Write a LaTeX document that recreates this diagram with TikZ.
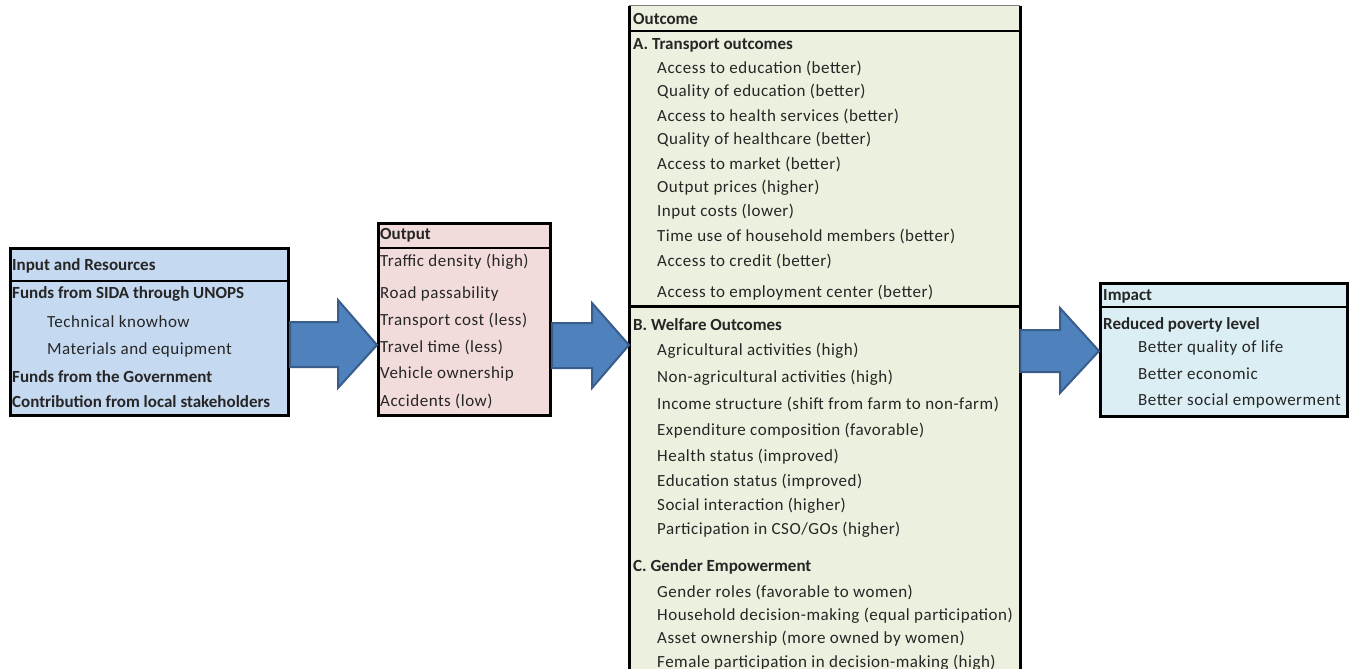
\documentclass[tikz,border=0pt]{standalone}
\usepackage{fontspec}
\setmainfont{Carlito}
\newfontfamily\regfont{Carlito}[LetterSpace=3]
\usetikzlibrary{calc}
\definecolor{inFill}{HTML}{C5D9F1}
\definecolor{outFill}{HTML}{F2DCDB}
\definecolor{ocFill}{HTML}{EBF1DE}
\definecolor{imFill}{HTML}{DAEEF3}
\definecolor{arFill}{HTML}{4F81BD}
\definecolor{arLine}{HTML}{385D8A}
\definecolor{txt}{HTML}{262626}
\definecolor{topgray}{HTML}{808080}
\begin{document}
\begin{tikzpicture}[x=1pt,y=-1pt,
  box/.style={draw=black, line width=3pt, inner sep=0pt, anchor=north west},
  hdr/.style={draw=black, line width=2.2pt},
  barrow/.style={fill=arFill, draw=arLine, line width=2pt, line join=miter},
  tx/.style={anchor=west, inner sep=0pt, text=txt, font=\regfont\fontsize{17}{20}\selectfont},
  hd/.style={anchor=west, inner sep=0pt, text=txt, font=\fontsize{17}{20}\selectfont\bfseries}
]
\useasboundingbox (0,0) rectangle (1349,669);
\fill[white] (0,0) rectangle (1349,669);

% ---------- Input box
\node[box, fill=inFill, minimum width=278pt, minimum height=167pt] (inbox) at (9,247) {};
\draw[hdr] (inbox.west |- 0,281) -- (inbox.east |- 0,281);
\node[hd] (in0) at (12,266) {Input and Resources};
\node[hd] (in1) at (12,294) {Funds from SIDA through UNOPS};
\node[tx] (in2) at (47,322) {Technical knowhow};
\node[tx] (in3) at (47,350) {Materials and equipment};
\node[hd] (in4) at (12,377) {Funds from the Government};
\node[hd] (in5) at (12,402) {Contribution from local stakeholders};

% ---------- Output box
\node[box, fill=outFill, minimum width=172pt, minimum height=192pt] (outbox) at (377,222) {};
\draw[hdr] (outbox.west |- 0,248) -- (outbox.east |- 0,248);
\node[hd] (o0) at (380,235) {Output};
\node[tx] (o1) at (380,262) {Traffic density (high)};
\node[tx] (o2) at (380,294) {Road passability};
\node[tx] (o3) at (380,321) {Transport cost (less)};
\node[tx] (o4) at (380,347) {Travel time (less)};
\node[tx] (o5) at (380,374) {Vehicle ownership};
\node[tx] (o6) at (380,401) {Accidents (low)};

% ---------- Outcome box
\node[inner sep=0pt, anchor=north west, fill=ocFill, minimum width=391pt, minimum height=680pt] (ocbox) at (629,6) {};
\draw[topgray, line width=1pt] (ocbox.north west) -- (ocbox.north east);
\draw[black, line width=3pt] (ocbox.north west) -- (ocbox.south west);
\draw[black, line width=3pt] (ocbox.north east) -- (ocbox.south east);
\draw[hdr] (ocbox.west |- 0,31) -- (ocbox.east |- 0,31);
\draw[black, line width=3pt] (ocbox.west |- 0,306) -- (ocbox.east |- 0,306);
\node[hd] (oc0) at (633,19) {Outcome};
\node[hd] (ocA) at (633,45) {A. Transport outcomes};
\node[tx] (a1) at (657,68) {Access to education (better)};
\node[tx] (a2) at (657,92) {Quality of education (better)};
\node[tx] (a3) at (657,116) {Access to health services (better)};
\node[tx] (a4) at (657,140) {Quality of healthcare (better)};
\node[tx] (a5) at (657,164) {Access to market (better)};
\node[tx] (a6) at (657,188) {Output prices (higher)};
\node[tx] (a7) at (657,212) {Input costs (lower)};
\node[tx] (a8) at (657,236) {Time use of household members (better)};
\node[tx] (a9) at (657,261) {Access to credit (better)};
\node[tx] (a10) at (657,293) {Access to employment center (better)};
\node[hd] (ocB) at (633,325) {B. Welfare Outcomes};
\node[tx] (b1) at (657,351) {Agricultural activities (high)};
\node[tx] (b2) at (657,378) {Non-agricultural activities (high)};
\node[tx] (b3) at (657,404) {Income structure (shift from farm to non-farm)};
\node[tx] (b4) at (657,431) {Expenditure composition (favorable)};
\node[tx] (b5) at (657,457) {Health status (improved)};
\node[tx] (b6) at (657,482) {Education status (improved)};
\node[tx] (b7) at (657,506) {Social interaction (higher)};
\node[tx] (b8) at (657,530) {Participation in CSO/GOs (higher)};
\node[hd] (ocC) at (633,567) {C. Gender Empowerment};
\node[tx] (c1) at (657,592) {Gender roles (favorable to women)};
\node[tx] (c2) at (657,616) {Household decision-making (equal participation)};
\node[tx] (c3) at (657,639) {Asset ownership (more owned by women)};
\node[tx] (c4) at (657,663) {Female participation in decision-making (high)};

% ---------- Impact box
\node[box, fill=imFill, minimum width=247pt, minimum height=133pt] (imbox) at (1099,282) {};
\draw[hdr] (imbox.west |- 0,307) -- (imbox.east |- 0,307);
\node[hd] (i0) at (1103,296) {Impact};
\node[hd] (i1) at (1103,325) {Reduced poverty level};
\node[tx] (i2) at (1138,348) {Better quality of life};
\node[tx] (i3) at (1138,374) {Better economic};
\node[tx] (i4) at (1138,401) {Better social empowerment};

% ---------- Block arrows
\coordinate (a1s) at (inbox.east |- 0,344);
\coordinate (a1t) at (outbox.west |- 0,345);
\draw[barrow] ($(a1s)+(0,-22)$) -- (338,322) -- (338,300) -- (a1t) -- (338,388) -- (338,367) -- ($(a1s)+(0,23)$) -- cycle;

\coordinate (a2s) at (outbox.east |- 0,345);
\coordinate (a2t) at (ocbox.west |- 0,345);
\draw[barrow] ($(a2s)+(0,-22)$) -- (592,323) -- (592,303) -- (a2t) -- (592,388) -- (592,368) -- ($(a2s)+(0,23)$) -- cycle;

\coordinate (a3s) at (ocbox.east |- 0,351);
\coordinate (a3t) at (imbox.west |- 0,351);
\draw[barrow] ($(a3s)+(0,-21)$) -- (1060,330) -- (1060,308) -- (a3t) -- (1060,393) -- (1060,372) -- ($(a3s)+(0,21)$) -- cycle;

\end{tikzpicture}
\end{document}
